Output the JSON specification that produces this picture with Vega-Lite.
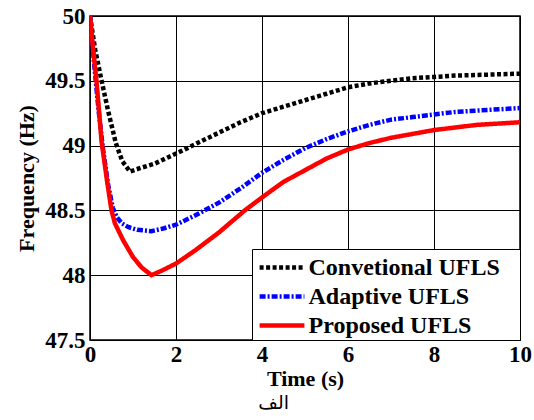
{
  "$schema": "https://vega.github.io/schema/vega-lite/v6.json",
  "width": 430,
  "height": 324,
  "autosize": {"type": "none"},
  "padding": {"left": 90, "top": 16, "right": 14, "bottom": 80},
  "background": "white",
  "config": {
    "view": {"stroke": "black", "strokeWidth": 1.5},
    "font": "Liberation Serif"
  },
  "title": {
    "text": "الف",
    "orient": "bottom",
    "anchor": "middle",
    "frame": "bounds",
    "font": "DejaVu Sans",
    "fontSize": 19,
    "fontWeight": "normal",
    "color": "black",
    "offset": 5
  },
  "data": {
    "values": [
      {"s": "Convetional UFLS", "t": 0, "f": 50},
      {"s": "Convetional UFLS", "t": 0.12, "f": 49.74},
      {"s": "Convetional UFLS", "t": 0.27, "f": 49.5},
      {"s": "Convetional UFLS", "t": 0.42, "f": 49.27},
      {"s": "Convetional UFLS", "t": 0.6, "f": 49.02},
      {"s": "Convetional UFLS", "t": 0.75, "f": 48.88},
      {"s": "Convetional UFLS", "t": 0.93, "f": 48.8},
      {"s": "Convetional UFLS", "t": 1.2, "f": 48.83},
      {"s": "Convetional UFLS", "t": 1.5, "f": 48.86},
      {"s": "Convetional UFLS", "t": 1.82, "f": 48.91},
      {"s": "Convetional UFLS", "t": 2.2, "f": 48.97},
      {"s": "Convetional UFLS", "t": 2.5, "f": 49.02},
      {"s": "Convetional UFLS", "t": 3, "f": 49.1},
      {"s": "Convetional UFLS", "t": 3.5, "f": 49.18},
      {"s": "Convetional UFLS", "t": 4, "f": 49.25},
      {"s": "Convetional UFLS", "t": 4.5, "f": 49.3},
      {"s": "Convetional UFLS", "t": 5, "f": 49.35},
      {"s": "Convetional UFLS", "t": 5.5, "f": 49.4},
      {"s": "Convetional UFLS", "t": 6, "f": 49.45},
      {"s": "Convetional UFLS", "t": 6.5, "f": 49.48},
      {"s": "Convetional UFLS", "t": 7, "f": 49.5},
      {"s": "Convetional UFLS", "t": 7.5, "f": 49.52},
      {"s": "Convetional UFLS", "t": 8, "f": 49.53},
      {"s": "Convetional UFLS", "t": 8.5, "f": 49.54},
      {"s": "Convetional UFLS", "t": 9, "f": 49.545},
      {"s": "Convetional UFLS", "t": 9.5, "f": 49.55},
      {"s": "Convetional UFLS", "t": 10, "f": 49.555},
      {"s": "Adaptive UFLS", "t": 0, "f": 50},
      {"s": "Adaptive UFLS", "t": 0.1, "f": 49.62},
      {"s": "Adaptive UFLS", "t": 0.2, "f": 49.27},
      {"s": "Adaptive UFLS", "t": 0.3, "f": 48.98},
      {"s": "Adaptive UFLS", "t": 0.42, "f": 48.7},
      {"s": "Adaptive UFLS", "t": 0.53, "f": 48.52},
      {"s": "Adaptive UFLS", "t": 0.62, "f": 48.45},
      {"s": "Adaptive UFLS", "t": 0.74, "f": 48.4},
      {"s": "Adaptive UFLS", "t": 0.9, "f": 48.37},
      {"s": "Adaptive UFLS", "t": 1.1, "f": 48.35},
      {"s": "Adaptive UFLS", "t": 1.43, "f": 48.34},
      {"s": "Adaptive UFLS", "t": 1.7, "f": 48.36},
      {"s": "Adaptive UFLS", "t": 2, "f": 48.39},
      {"s": "Adaptive UFLS", "t": 2.44, "f": 48.46},
      {"s": "Adaptive UFLS", "t": 3, "f": 48.56},
      {"s": "Adaptive UFLS", "t": 3.5, "f": 48.67},
      {"s": "Adaptive UFLS", "t": 4, "f": 48.79},
      {"s": "Adaptive UFLS", "t": 4.5, "f": 48.89},
      {"s": "Adaptive UFLS", "t": 5, "f": 48.98},
      {"s": "Adaptive UFLS", "t": 5.5, "f": 49.05},
      {"s": "Adaptive UFLS", "t": 6, "f": 49.11},
      {"s": "Adaptive UFLS", "t": 6.5, "f": 49.16},
      {"s": "Adaptive UFLS", "t": 7, "f": 49.2},
      {"s": "Adaptive UFLS", "t": 7.5, "f": 49.22},
      {"s": "Adaptive UFLS", "t": 8, "f": 49.24},
      {"s": "Adaptive UFLS", "t": 8.5, "f": 49.26},
      {"s": "Adaptive UFLS", "t": 9, "f": 49.27},
      {"s": "Adaptive UFLS", "t": 9.5, "f": 49.28},
      {"s": "Adaptive UFLS", "t": 10, "f": 49.29},
      {"s": "Proposed UFLS", "t": 0, "f": 50},
      {"s": "Proposed UFLS", "t": 0.07, "f": 49.75},
      {"s": "Proposed UFLS", "t": 0.15, "f": 49.5},
      {"s": "Proposed UFLS", "t": 0.27, "f": 49.03},
      {"s": "Proposed UFLS", "t": 0.4, "f": 48.72},
      {"s": "Proposed UFLS", "t": 0.5, "f": 48.5},
      {"s": "Proposed UFLS", "t": 0.58, "f": 48.4},
      {"s": "Proposed UFLS", "t": 0.77, "f": 48.27},
      {"s": "Proposed UFLS", "t": 1, "f": 48.14},
      {"s": "Proposed UFLS", "t": 1.2, "f": 48.06},
      {"s": "Proposed UFLS", "t": 1.43, "f": 48.0},
      {"s": "Proposed UFLS", "t": 1.7, "f": 48.04},
      {"s": "Proposed UFLS", "t": 2, "f": 48.09},
      {"s": "Proposed UFLS", "t": 2.44, "f": 48.19},
      {"s": "Proposed UFLS", "t": 3, "f": 48.33},
      {"s": "Proposed UFLS", "t": 3.6, "f": 48.5},
      {"s": "Proposed UFLS", "t": 4, "f": 48.6},
      {"s": "Proposed UFLS", "t": 4.5, "f": 48.72},
      {"s": "Proposed UFLS", "t": 5, "f": 48.81},
      {"s": "Proposed UFLS", "t": 5.5, "f": 48.9},
      {"s": "Proposed UFLS", "t": 6, "f": 48.97},
      {"s": "Proposed UFLS", "t": 6.5, "f": 49.02},
      {"s": "Proposed UFLS", "t": 7, "f": 49.06},
      {"s": "Proposed UFLS", "t": 7.5, "f": 49.09},
      {"s": "Proposed UFLS", "t": 8, "f": 49.12},
      {"s": "Proposed UFLS", "t": 8.5, "f": 49.14},
      {"s": "Proposed UFLS", "t": 9, "f": 49.16},
      {"s": "Proposed UFLS", "t": 9.5, "f": 49.17},
      {"s": "Proposed UFLS", "t": 10, "f": 49.18}
    ]
  },
  "mark": {"type": "line", "strokeWidth": 4.5, "clip": true},
  "encoding": {
    "x": {
      "field": "t",
      "type": "quantitative",
      "scale": {"domain": [0, 10], "nice": false},
      "axis": {
        "title": "Time (s)",
        "values": [0, 2, 4, 6, 8, 10],
        "grid": true,
        "gridColor": "black",
        "gridOpacity": 1,
        "gridWidth": 1,
        "domain": false,
        "ticks": false,
        "labelPadding": 3,
        "labelFont": "Liberation Serif",
        "labelFontSize": 23,
        "labelFontWeight": "bold",
        "labelColor": "black",
        "labelFlush": false,
        "titleFont": "Liberation Serif",
        "titleFontSize": 22,
        "titleFontWeight": "bold",
        "titleColor": "black",
        "titlePadding": 2
      }
    },
    "y": {
      "field": "f",
      "type": "quantitative",
      "scale": {"domain": [47.5, 50], "nice": false, "zero": false},
      "axis": {
        "title": "Frequency (Hz)",
        "values": [47.5, 48, 48.5, 49, 49.5, 50],
        "format": "~g",
        "grid": true,
        "gridColor": "black",
        "gridOpacity": 1,
        "gridWidth": 1,
        "domain": false,
        "ticks": false,
        "labelPadding": 5,
        "labelFont": "Liberation Serif",
        "labelFontSize": 23,
        "labelFontWeight": "bold",
        "labelColor": "black",
        "labelFlush": false,
        "titleFont": "Liberation Serif",
        "titleFontSize": 22,
        "titleFontWeight": "bold",
        "titleColor": "black",
        "titlePadding": 6
      }
    },
    "color": {
      "field": "s",
      "type": "nominal",
      "scale": {
        "domain": ["Convetional UFLS", "Adaptive UFLS", "Proposed UFLS"],
        "range": ["#000000", "#0000ff", "#ff0000"]
      },
      "legend": {
        "title": null,
        "orient": "bottom-right",
        "offset": 0,
        "strokeColor": "black",
        "fillColor": "white",
        "padding": 2,
        "symbolType": "M-1.6,0H1.6",
        "symbolSize": 784,
        "symbolOffset": 11.5,
        "symbolStrokeWidth": 4.5,
        "labelFont": "Liberation Serif",
        "labelFontSize": 24,
        "labelFontWeight": "bold",
        "labelColor": "black",
        "labelOffset": 10,
        "labelExpr": "datum.label + '\u2800'",
        "rowPadding": 0,
        "labelLimit": 400
      }
    },
    "strokeDash": {
      "field": "s",
      "type": "nominal",
      "scale": {
        "domain": ["Convetional UFLS", "Adaptive UFLS", "Proposed UFLS"],
        "range": [[4, 2.5], [6, 2, 2, 2], [1, 0]]
      },
      "legend": null
    }
  }
}
